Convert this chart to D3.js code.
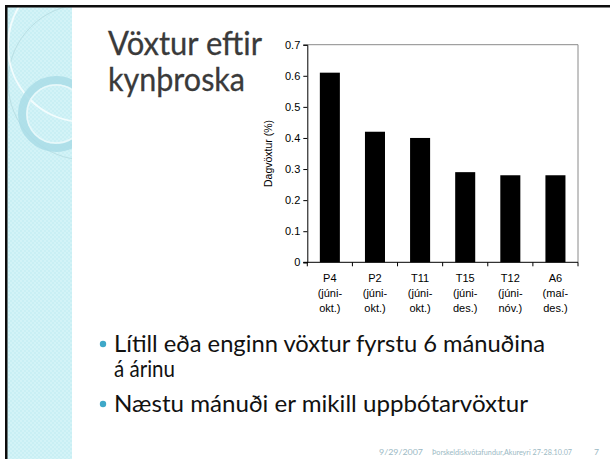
<!DOCTYPE html>
<html>
<head>
<meta charset="utf-8">
<script src="https://cdn.jsdelivr.net/npm/d3@7"></script>
<style>
  body { margin: 0; background: #fff; }
  svg { display: block; }
  .tick text { font-family: "Liberation Sans", Arial, sans-serif; }
</style>
</head>
<body>
<div id="slide"></div>
<script>
// chart values
var stations = ["P4", "P2", "T11", "T15", "T12", "A6"];
var periodStart = ["(júni-", "(júni-", "(júni-", "(júni-", "(júni-", "(maí-"];
var periodEnd = ["okt.)", "okt.)", "okt.)", "des.)", "nóv.)", "des.)"];
var growth = [0.61, 0.42, 0.40, 0.29, 0.28, 0.28];
var yTicks = [0, 0.1, 0.2, 0.3, 0.4, 0.5, 0.6, 0.7];

var titleLines = ["Vöxtur eftir", "kynþroska"];
var bullets = [
  ["Lítill eða enginn vöxtur fyrstu 6 mánuðina", "á árinu"],
  ["Næstu mánuði er mikill uppbótarvöxtur"]
];
var footer = ["9/29/2007", "Þorskeldiskvótafundur,Akureyri 27-28.10.07", "7"];

var winWidth = 610, winHeight = 459;
var gill = "'Gill Sans', 'Gill Sans MT', Lato, 'Open Sans', sans-serif";

var svg = d3.select('#slide').append('svg')
  .attr('width', winWidth)
  .attr('height', winHeight);

// checker pattern of the side panel
var defs = svg.append('defs');
var pat = defs.append('pattern')
  .attr('id', 'checker')
  .attr('width', 4)
  .attr('height', 4)
  .attr('patternUnits', 'userSpaceOnUse');
pat.append('rect').attr('width', 4).attr('height', 4).attr('fill', '#c9eff4');
pat.append('rect').attr('width', 2).attr('height', 2).attr('fill', '#d3f3f7');
pat.append('rect').attr('x', 2).attr('y', 2).attr('width', 2).attr('height', 2).attr('fill', '#d3f3f7');

defs.append('clipPath').attr('id', 'panelClip')
  .append('rect')
  .attr('x', 7).attr('y', 7)
  .attr('width', 65).attr('height', winHeight - 7);

var panel = svg.append('g').attr('clip-path', 'url(#panelClip)');
panel.append('rect')
  .attr('x', 7).attr('y', 7)
  .attr('width', 65).attr('height', winHeight - 7)
  .attr('fill', 'url(#checker)');

// decorative circles
panel.append('circle')
  .attr('cx', 86).attr('cy', 82).attr('r', 78)
  .attr('fill', 'none')
  .attr('stroke', '#b9dfe4')
  .attr('stroke-width', 1);
panel.append('circle')
  .attr('cx', 84).attr('cy', 46).attr('r', 76)
  .attr('fill', 'none')
  .attr('stroke', '#f2fcfd')
  .attr('stroke-width', 2);
panel.append('circle')
  .attr('cx', 56).attr('cy', 114).attr('r', 34)
  .attr('fill', 'none')
  .attr('stroke', '#a9dce6')
  .attr('stroke-width', 8)
  .attr('opacity', 0.85);
panel.append('circle')
  .attr('cx', 56).attr('cy', 114).attr('r', 29)
  .attr('fill', 'none')
  .attr('stroke', '#e8f8fa')
  .attr('stroke-width', 1.5);

// slide frame
svg.append('rect')
  .attr('x', 5).attr('y', 5)
  .attr('width', winWidth).attr('height', 2.5)
  .attr('fill', '#0d0d0d');
svg.append('rect')
  .attr('x', 5).attr('y', 5)
  .attr('width', 2.5).attr('height', winHeight)
  .attr('fill', '#0d0d0d');

// title
var titleWidths = [154, 137];
svg.append('g').selectAll('text')
  .data(titleLines)
  .join('text')
  .attr('x', 108)
  .attr('y', (d, i) => 55 + i * 36)
  .attr('font-family', gill)
  .attr('font-size', 33)
  .attr('fill', '#3a3a3a')
  .attr('stroke', '#3a3a3a')
  .attr('stroke-width', 0.3)
  .attr('textLength', (d, i) => titleWidths[i])
  .attr('lengthAdjust', 'spacingAndGlyphs')
  .text(d => d);

// chart
var plotLeft = 307.3, plotRight = 578, plotTop = 44.7, plotBottom = 262.3;

var x = d3.scaleBand()
  .domain(stations)
  .range([plotLeft, plotRight])
  .paddingInner(0.556)
  .paddingOuter(0.278);

var y = d3.scaleLinear()
  .domain([0, 0.7])
  .range([plotBottom, plotTop]);

var chart = svg.append('g').attr('class', 'chart');

// frame top/right
chart.append('path')
  .attr('d', `M${plotLeft},${plotTop}H${plotRight}V${plotBottom}`)
  .attr('fill', 'none')
  .attr('stroke', '#8a8a8a')
  .attr('stroke-width', 1);

chart.selectAll('rect.bar')
  .data(growth)
  .join('rect')
  .attr('class', 'bar')
  .attr('x', (d, i) => x(stations[i]))
  .attr('y', d => y(d))
  .attr('width', x.bandwidth())
  .attr('height', d => plotBottom - y(d))
  .attr('fill', '#000');

var yAxis = chart.append('g')
  .attr('transform', `translate(${plotLeft},0)`)
  .call(d3.axisLeft(y)
    .tickValues(yTicks)
    .tickSize(4)
    .tickPadding(3)
    .tickFormat(d => d === 0 ? '0' : d.toFixed(1)));
yAxis.selectAll('text').attr('font-size', 11).attr('fill', '#000');
yAxis.selectAll('line, path').attr('stroke', '#000');

// x axis with ticks on category boundaries
var bounds = d3.range(stations.length + 1).map(i => plotLeft + i * x.step());
var xAxis = chart.append('g');
xAxis.append('line')
  .attr('x1', plotLeft - 4).attr('x2', plotRight)
  .attr('y1', plotBottom).attr('y2', plotBottom)
  .attr('stroke', '#000');
xAxis.selectAll('line.xt')
  .data(bounds)
  .join('line')
  .attr('class', 'xt')
  .attr('x1', d => d).attr('x2', d => d)
  .attr('y1', plotBottom).attr('y2', plotBottom + 4)
  .attr('stroke', '#000');

var xLabels = xAxis.selectAll('text.xl')
  .data(stations)
  .join('text')
  .attr('class', 'xl')
  .attr('x', d => x(d) + x.bandwidth() / 2)
  .attr('y', 282)
  .attr('text-anchor', 'middle')
  .attr('font-family', "'Liberation Sans', Arial, sans-serif")
  .attr('font-size', 11)
  .attr('fill', '#000');
xLabels.append('tspan').text(d => d);
xLabels.append('tspan')
  .attr('x', d => x(d) + x.bandwidth() / 2)
  .attr('dy', 15)
  .text((d, i) => periodStart[i]);
xLabels.append('tspan')
  .attr('x', d => x(d) + x.bandwidth() / 2)
  .attr('dy', 15)
  .text((d, i) => periodEnd[i]);

chart.append('text')
  .attr('transform', `translate(272, ${(plotTop + plotBottom) / 2}) rotate(-90)`)
  .attr('text-anchor', 'middle')
  .attr('font-family', "'Liberation Sans', Arial, sans-serif")
  .attr('font-size', 10.5)
  .attr('fill', '#000')
  .text('Dagvöxtur (%)');

// bullets
var bulletWidths = [[431, 61], [414]];
var bulletY = [352, 412];
var bl = svg.append('g').attr('class', 'bullets');
bullets.forEach(function(lines, b) {
  bl.append('circle')
    .attr('cx', 103)
    .attr('cy', bulletY[b] - 8)
    .attr('r', 3.2)
    .attr('fill', '#3fa8c8');
  lines.forEach(function(t, j) {
    bl.append('text')
      .attr('x', 114)
      .attr('y', bulletY[b] + j * 24.5)
      .attr('font-family', gill)
      .attr('font-size', 23)
      .attr('fill', '#111')
      .attr('textLength', bulletWidths[b][j])
      .attr('lengthAdjust', 'spacingAndGlyphs')
      .text(t);
  });
});

// footer
var footX = [379, 432, 594];
var footW = [44, 140, 5];
svg.append('g').selectAll('text')
  .data(footer)
  .join('text')
  .attr('x', (d, i) => footX[i])
  .attr('y', 455)
  .attr('font-family', gill)
  .attr('font-size', 8)
  .attr('fill', '#9bb9c4')
  .attr('textLength', (d, i) => footW[i])
  .attr('lengthAdjust', 'spacingAndGlyphs')
  .text(d => d);
</script>
</body>
</html>
